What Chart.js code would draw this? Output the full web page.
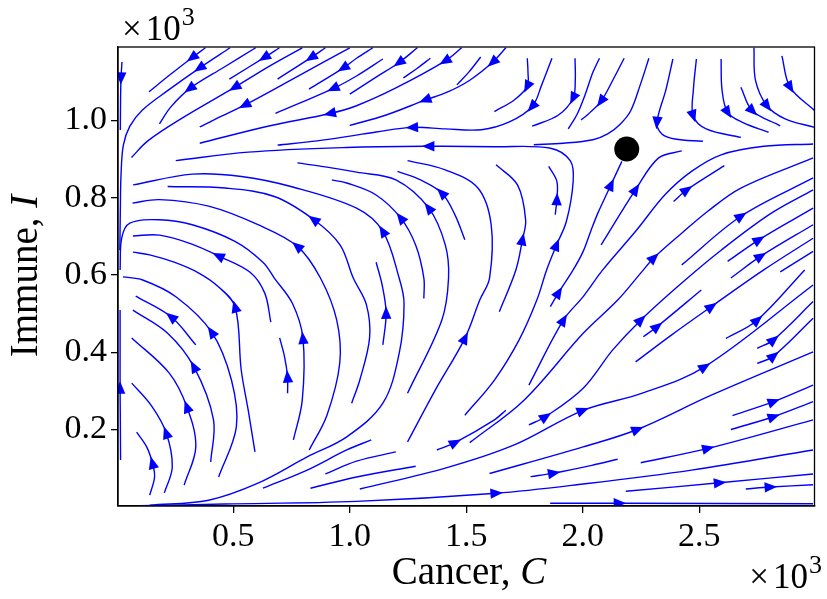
<!DOCTYPE html>
<html>
<head>
<meta charset="utf-8">
<script src="https://cdn.jsdelivr.net/npm/chart.js@4.4.1/dist/chart.umd.min.js"></script>
<style>
  html, body { margin: 0; padding: 0; background: #fff; }
</style>
</head>
<body>
<canvas id="phase" width="827" height="599"></canvas>
<script>
// Cancer-immune phase plane: streamlines in cell counts (C, I), labels in thousands
const xTickValues = [500, 1000, 1500, 2000, 2500];
const yTickValues = [200, 400, 600, 800, 1000];
const saddlePoint = [2189, 926];

// flow coming down from the top, bending left towards C = 0
const upperLines = [
  [[380,1188],[324,1163],[232,1120],[138,1074]],
  [[486,1188],[356,1136],[218,1077],[110,1027],[56,985],[28,936],[18,859],[15,768],[13,664]],
  [[596,1188],[458,1137],[314,1083],[232,1035],[183,991]],
  [[698,1188],[634,1163],[483,1107]],
  [[796,1188],[648,1138],[507,1086],[275,1004],[133,947],[63,904]],
  [[895,1188],[835,1163],[690,1107]],
  [[1000,1188],[782,1116],[550,1040],[415,1001],[356,983]],
  [[1099,1188],[1029,1161],[973,1136],[825,1081]],
  [[1142,1159],[1029,1115],[930,1083],[681,1018]],
  [[1290,1188],[1212,1150],[1113,1112],[1000,1068]],
  [[1480,1188],[1410,1154],[1198,1084],[1029,1038],[916,1018],[648,985],[356,941]],
  [[1562,1164],[1511,1125],[1460,1092]],
  [[1346,1161],[1290,1135],[1230,1110]],
  [[1670,1188],[1614,1151],[1515,1104],[1418,1073],[1325,1053],[1156,1014],[1000,987]],
  [[1762,1161],[1765,1125],[1762,1088],[1706,1053],[1621,1023]],
  [[1868,1161],[1824,1092],[1783,1036],[1685,996],[1566,976],[1410,978],[1269,982],[1113,970],[1008,960],[860,947],[690,936]],
  [[1967,1161],[1968,1104],[1959,1058],[1896,1014],[1783,985]],
  [[2072,1161],[2044,1125],[2010,1066],[1976,1016],[1938,978]],
  [[2178,1161],[2129,1104],[2079,1050],[2023,1016],[1993,1001]],
  [[2284,1161],[2247,1092],[2206,1025],[2162,991],[2107,965],[2044,950],[1917,941],[1790,937]],
  [[22,1151],[18,1110],[16,1053],[15,975]]
];
const upperArrows = [[1],[1],[2],[1],[2],[1],[2],[2],[2],[1],[1,4],[],[],[1,4],[2],[2,6],[2],[],[2],[],[1]];

// flow coming down on the right of the saddle, bending right
const upperRightLines = [
  [[2387,1159],[2357,1079],[2319,995],[2340,965],[2396,952],[2516,946]],
  [[2488,1159],[2475,1079],[2474,1012],[2530,978],[2679,956]],
  [[2594,1159],[2598,1079],[2622,1021],[2686,995],[2798,969]],
  [[2679,1086],[2728,1025],[2848,986]],
  [[2735,1188],[2742,1103],[2791,1038],[2869,1004],[2996,982]],
  [[2855,1167],[2890,1086],[2996,1025]]
];
const upperRightArrows = [[2],[2],[2],[1],[2],[1]];

// separatrix, the short loop inside it, and the branch running into the saddle
const separatrixLines = [
  [[1494,237],[1621,328],[1727,432],[1803,535],[1845,613],[1887,677],[1930,739],[1959,842],[1947,895],[1862,928],[1621,932],[1339,933],[987,930],[564,918],[253,896]],
  [[1882,756],[1889,795],[1889,842],[1854,881]],
  [[1861,518],[1896,554],[1959,613],[2002,661],[2036,716],[2065,760],[2121,833],[2168,894]]
];
const separatrixArrows = [[5,11],[1],[1,6]];

// nested arcs in the lower left, turning back towards C = 0
const arcLines = [
  [[141,30],[162,77],[153,113],[128,155],[85,193]],
  [[204,36],[238,103],[212,191],[149,261],[64,320]],
  [[289,56],[339,155],[301,258],[225,346],[64,437]],
  [[403,116],[415,225],[331,362],[217,450],[69,509]],
  [[339,419],[234,491],[81,545]],
  [[437,77],[513,206],[492,328],[407,452],[255,543],[111,587],[26,595]],
  [[593,142],[564,250],[534,354],[508,517],[437,569],[352,605],[246,633],[141,652],[69,659]],
  [[733,294],[733,336],[720,388],[699,437]],
  [[661,478],[635,553],[572,607],[437,649],[322,680],[183,703],[69,701]],
  [[758,173],[796,276],[799,436],[754,526],[676,592],[627,633],[507,687],[324,730],[183,743],[56,734],[21,696],[14,613]],
  [[826,147],[902,237],[957,372],[944,483],[874,592],[775,674],[606,730],[394,778],[183,795],[67,786]],
  [[1008,268],[1043,328],[1085,437],[1071,524],[1015,592],[958,678],[846,743],[676,803],[465,825],[218,829]],
  [[16,121],[15,225],[14,307],[14,406],[14,509]]
];
const arcArrows = [[2],[2],[2],[2],[1],[3],[3],[1],[3],[2],[5],[6],[2]];

// wide loops through the middle of the plane
const middleLines = [
  [[1142,419],[1156,501],[1139,574],[1113,633]],
  [[141,4],[394,17],[606,61],[817,129],[987,181],[1142,268],[1212,397],[1233,527],[1212,592],[1142,713],[1029,773],[747,829],[535,855],[324,861],[70,833]],
  [[1318,539],[1318,592],[1283,677],[1219,747],[1113,807],[987,838],[923,846]],
  [[1248,294],[1395,483],[1424,592],[1410,678],[1339,773],[1198,846],[1029,866],[902,879],[775,890]],
  [[1494,691],[1452,755],[1395,812],[1304,846],[1205,868]],
  [[1248,168],[1367,302],[1494,436],[1558,535],[1600,592],[1607,730],[1550,825],[1410,872],[1248,896]],
  [[1642,505],[1713,613],[1741,691],[1755,742],[1720,833],[1628,885]],
  [[627,48],[817,95],[987,147],[1092,173]],
  [[831,48],[1029,77],[1283,105]],
  [[895,85],[1029,118],[1198,142]]
];
const middleArrows = [[1],[9],[3],[4],[2],[2],[2],[],[],[]];

// fan of trajectories escaping to large C
const lowerRightLines = [
  [[1374,147],[1452,166],[1621,225],[1670,250]],
  [[1769,315],[1917,483],[2002,544],[2086,613],[2227,713],[2354,808],[2467,868],[2594,911],[2777,933],[2989,939]],
  [[2079,678],[2227,821],[2326,903],[2425,921]],
  [[1515,166],[1748,276],[2002,449],[2150,535],[2256,610],[2305,644],[2425,708],[2537,765],[2679,825],[2989,903]],
  [[1769,212],[1840,233],[2002,307],[2129,406],[2249,483],[2425,579],[2594,664],[2805,758],[2989,820]],
  [[2390,790],[2446,820],[2608,883]],
  [[2425,626],[2679,752],[2989,851]],
  [[2260,440],[2319,466],[2509,561]],
  [[2227,375],[2382,445],[2552,518],[2777,613],[2989,695]],
  [[2622,635],[2756,691],[2989,773]],
  [[2636,592],[2763,648],[2989,730]],
  [[2848,608],[2989,661]],
  [[2615,436],[2749,483],[2953,613]],
  [[2749,410],[2819,432],[2989,531]],
  [[2749,371],[2819,390],[2989,488]],
  [[1043,46],[1410,100],[1706,160],[1999,249],[2256,294],[2523,362],[2989,574]],
  [[1600,86],[2002,155],[2234,200],[2552,289],[2989,401]],
  [[2643,236],[2819,272],[2989,315]],
  [[2636,200],[2819,233],[2989,272]],
  [[1776,78],[1875,87],[2044,108],[2150,123]],
  [[2249,114],[2537,151],[2989,225]],
  [[98,3],[465,7],[1029,14],[1628,35],[2002,59],[2467,95],[2989,147]],
  [[2185,40],[2587,62],[2989,85]],
  [[2700,46],[2805,51],[2989,57]],
  [[1860,9],[2157,9],[2989,8]]
];
const lowerRightArrows = [[1],[1],[1],[5],[1,4],[1],[1],[1],[2],[1],[1],[],[1],[1],[1],[3,5],[2],[1],[1],[1],[1],[3],[1],[1],[1]];

const STREAM = '#0000ff';
const SERIF = "'Liberation Serif', 'DejaVu Serif', serif";

const groups = [
  [upperLines, upperArrows],
  [upperRightLines, upperRightArrows],
  [separatrixLines, separatrixArrows],
  [arcLines, arcArrows],
  [middleLines, middleArrows],
  [lowerRightLines, lowerRightArrows]
];

// saddle marker first so it is painted over the streamlines
const datasets = [{
  data: [saddlePoint],
  showLine: false,
  pointRadius: 12.5,
  pointBackgroundColor: '#000',
  pointBorderWidth: 0,
  arrowAt: []
}];
groups.forEach(([lines, arrows]) => {
  lines.forEach((pts, i) => {
    datasets.push({
      data: pts,
      showLine: true,
      borderColor: STREAM,
      borderWidth: 1.4,
      pointRadius: 0,
      tension: 0.35,
      fill: false,
      arrowAt: arrows[i]
    });
  });
});

// one filled head per marked vertex, oriented along the local chord
const arrowHeads = {
  id: 'arrowHeads',
  afterDatasetsDraw(chart) {
    const { ctx, chartArea: area, scales: { x, y } } = chart;
    ctx.save();
    ctx.beginPath();
    ctx.rect(area.left, area.top, area.right - area.left, area.bottom - area.top);
    ctx.clip();
    ctx.fillStyle = STREAM;
    chart.data.datasets.forEach(ds => {
      (ds.arrowAt || []).forEach(k => {
        const pts = ds.data;
        const p = pts[k];
        const a = pts[Math.max(k - 1, 0)];
        const b = pts[Math.min(k + 1, pts.length - 1)];
        const px = x.getPixelForValue(p[0]);
        const py = y.getPixelForValue(p[1]);
        let dx = x.getPixelForValue(b[0]) - x.getPixelForValue(a[0]);
        let dy = y.getPixelForValue(b[1]) - y.getPixelForValue(a[1]);
        const n = Math.hypot(dx, dy) || 1;
        dx /= n; dy /= n;
        const len = 12.5, half = 5.2;
        const bx = px - dx * len * 0.45, by = py - dy * len * 0.45;
        ctx.beginPath();
        ctx.moveTo(px + dx * len * 0.55, py + dy * len * 0.55);
        ctx.lineTo(bx - dy * half, by + dx * half);
        ctx.lineTo(bx + dy * half, by - dx * half);
        ctx.closePath();
        ctx.fill();
      });
    });
    ctx.restore();
  }
};

function drawRuns(ctx, runs, size, x, y, align) {
  const widths = runs.map(([t, style]) => {
    ctx.font = `${style} ${size}px ${SERIF}`;
    return ctx.measureText(t).width;
  });
  const total = widths.reduce((s, w) => s + w, 0);
  let cx = align === 'center' ? x - total / 2 : align === 'right' ? x - total : x;
  ctx.textAlign = 'left';
  ctx.textBaseline = 'alphabetic';
  runs.forEach(([t, style], i) => {
    ctx.font = `${style} ${size}px ${SERIF}`;
    ctx.fillText(t, cx, y);
    cx += widths[i];
  });
}

function drawMultiplier(ctx, x, y, align) {
  ctx.font = `normal 35px ${SERIF}`;
  const w0 = ctx.measureText('\u00d7').width;
  const w1 = ctx.measureText('10').width;
  ctx.font = `normal 26px ${SERIF}`;
  const w2 = ctx.measureText('3').width;
  const gap = 4;
  const left = align === 'right' ? x - w0 - gap - w1 - w2 - 1 : x;
  ctx.textAlign = 'left';
  ctx.textBaseline = 'alphabetic';
  ctx.font = `normal 35px ${SERIF}`;
  ctx.fillText('\u00d7', left, y);
  ctx.fillText('10', left + w0 + gap, y);
  ctx.font = `normal 26px ${SERIF}`;
  ctx.fillText('3', left + w0 + gap + w1 + 1, y - 15);
}

// frame, axis titles and the x10^3 offset labels
const axisText = {
  id: 'axisText',
  afterDraw(chart) {
    const { ctx, chartArea: a } = chart;
    ctx.save();
    ctx.strokeStyle = '#000';
    ctx.lineWidth = 1.3;
    ctx.strokeRect(a.left, a.top, a.right - a.left, a.bottom - a.top);
    ctx.fillStyle = '#000';
    drawRuns(ctx, [['Cancer, ', 'normal'], ['C', 'italic']], 39, 469, 584, 'center');
    ctx.save();
    ctx.translate(37, 276);
    ctx.rotate(-Math.PI / 2);
    drawRuns(ctx, [['Immune, ', 'normal'], ['I', 'italic']], 39, 0, 0, 'center');
    ctx.restore();
    drawMultiplier(ctx, 122, 40, 'left');
    drawMultiplier(ctx, 822, 588, 'right');
    ctx.restore();
  }
};

const tickFont = { family: SERIF, size: 34 };

new Chart(document.getElementById('phase'), {
  type: 'scatter',
  data: { datasets },
  plugins: [arrowHeads, axisText],
  options: {
    responsive: false,
    animation: false,
    devicePixelRatio: 1,
    events: [],
    layout: { padding: { top: 47, right: 1, left: 0, bottom: 0 } },
    plugins: { legend: { display: false }, tooltip: { enabled: false } },
    scales: {
      x: {
        type: 'linear',
        min: 5,
        max: 2995,
        afterBuildTicks: s => { s.ticks = xTickValues.map(v => ({ value: v })); },
        afterFit: s => { s.height = 93; },
        ticks: {
          callback: v => (v / 1000).toFixed(1),
          font: tickFont,
          color: '#000',
          padding: 4,
          maxRotation: 0,
          autoSkip: false
        },
        grid: { drawOnChartArea: false, drawTicks: true, tickLength: 7, color: '#000', lineWidth: 1.3 },
        border: { display: true, color: '#000', width: 1.3 }
      },
      y: {
        type: 'linear',
        min: 2,
        max: 1190,
        afterBuildTicks: s => { s.ticks = yTickValues.map(v => ({ value: v })); },
        afterFit: s => { s.width = 118; },
        ticks: {
          callback: v => (v / 1000).toFixed(1),
          font: tickFont,
          color: '#000',
          padding: 4,
          autoSkip: false
        },
        grid: { drawOnChartArea: false, drawTicks: true, tickLength: 7, color: '#000', lineWidth: 1.3 },
        border: { display: true, color: '#000', width: 1.3 }
      }
    }
  }
});
</script>
</body>
</html>
